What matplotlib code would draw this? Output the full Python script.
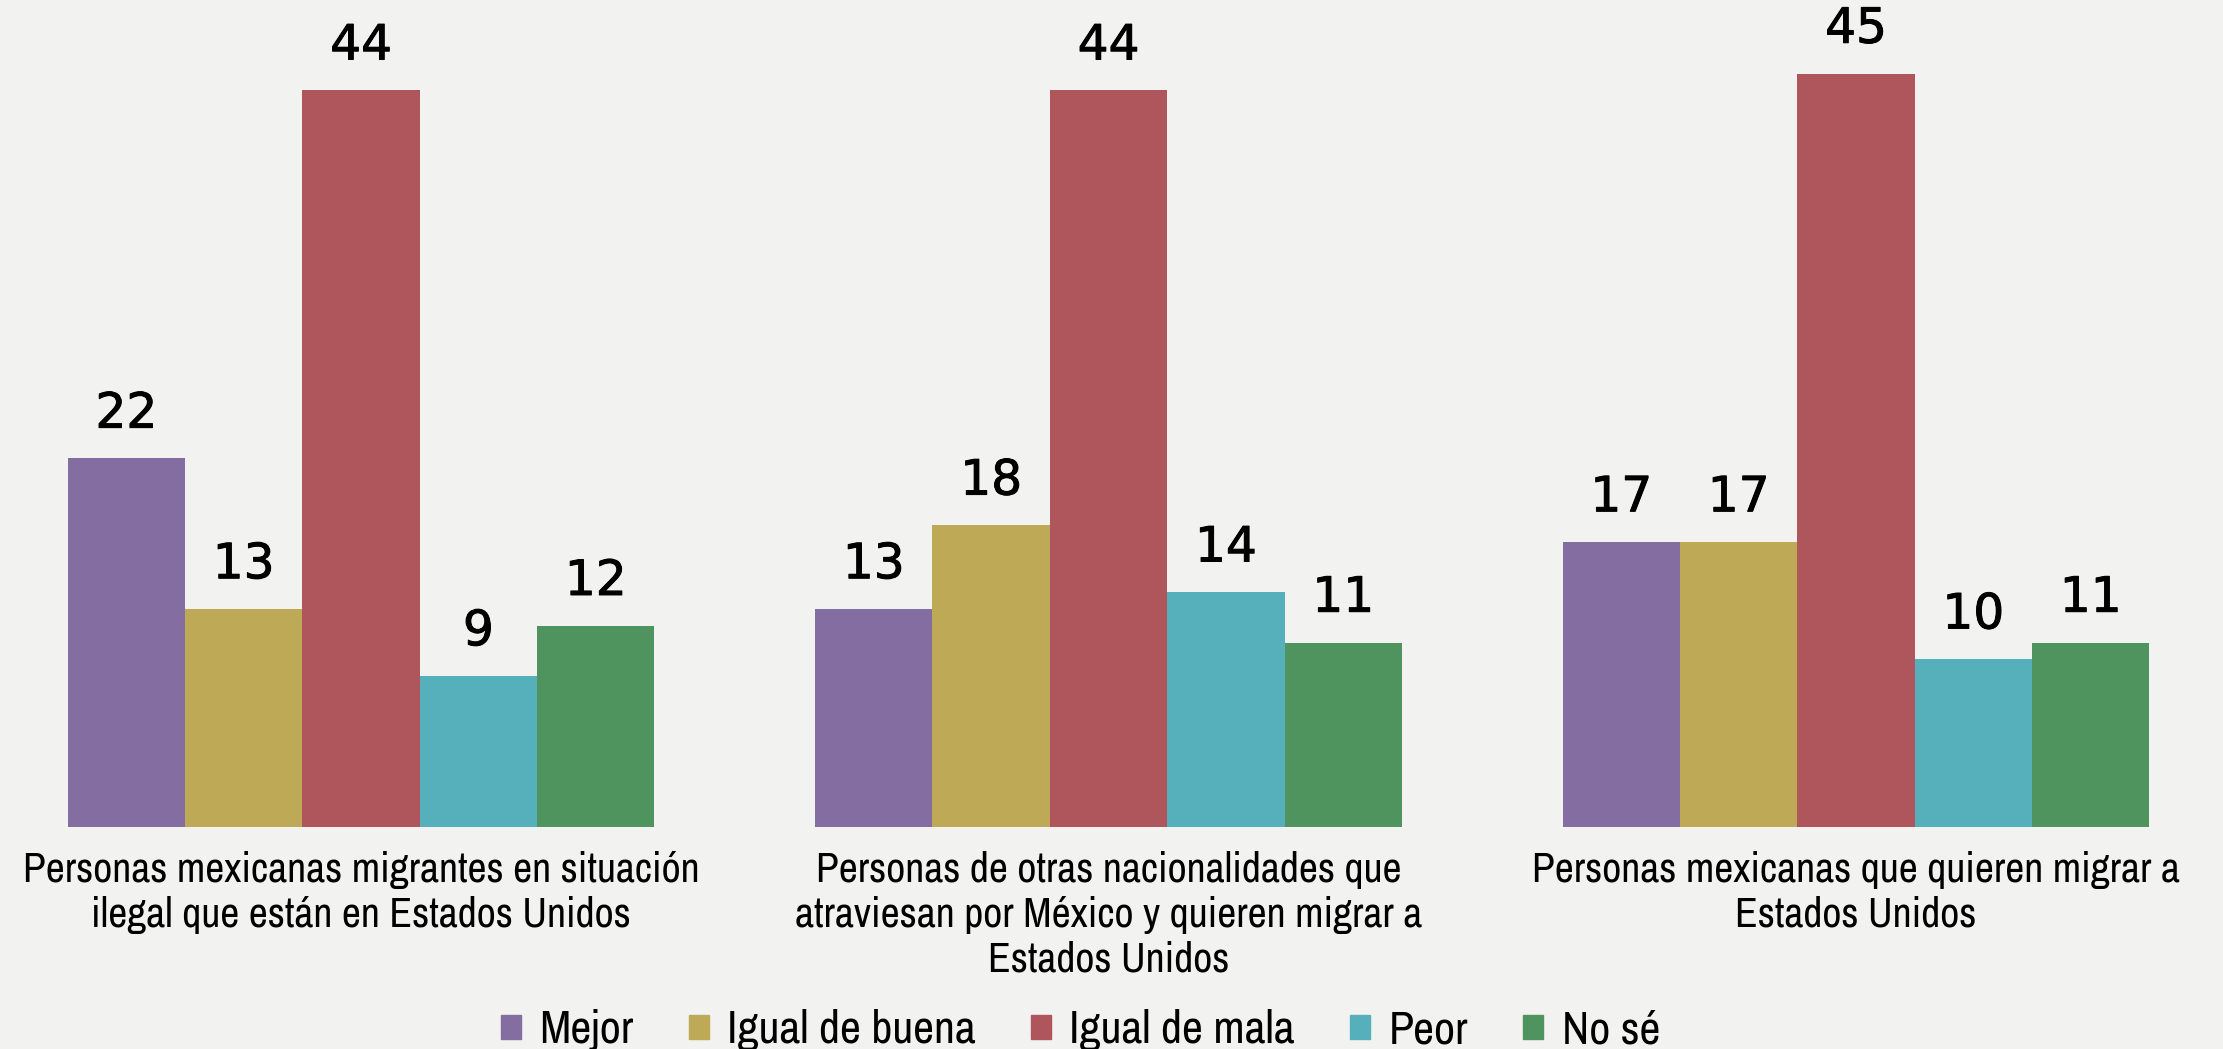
import matplotlib
matplotlib.use("Agg")
import matplotlib.pyplot as plt
from matplotlib.patches import Patch
import matplotlib.patheffects as pe
import numpy as np

categories = [
    "Personas mexicanas migrantes en situación\nilegal que están en Estados Unidos",
    "Personas de otras nacionalidades que\natraviesan por México y quieren migrar a\nEstados Unidos",
    "Personas mexicanas que quieren migrar a\nEstados Unidos",
]
series_names = ["Mejor", "Igual de buena", "Igual de mala", "Peor", "No sé"]
mejor = [22, 13, 17]
igual_buena = [13, 18, 17]
igual_mala = [44, 44, 45]
peor = [9, 14, 10]
no_se = [12, 11, 11]
series_values = [mejor, igual_buena, igual_mala, peor, no_se]
colors = ["#846DA0", "#BEAA56", "#AE565C", "#56B0BC", "#4F935F"]
bg = "#F2F2F0"

label_font = ["Archivo Narrow", "Roboto Condensed", "DejaVu Sans"]
num_font = ["DejaVu Sans"]

fig = plt.figure(figsize=(22.23, 10.49), dpi=100, facecolor=bg)
ax = fig.add_axes([0, 0.212, 1, 0.788])
ax.set_facecolor(bg)

x = np.arange(len(categories))
bw = 0.157
n = len(series_names)
for i, (name, vals, c) in enumerate(zip(series_names, series_values, colors)):
    pos = x + (i - (n - 1) / 2) * bw
    bars = ax.bar(pos, vals, width=bw, color=c, label=name)
    labels = ax.bar_label(bars, padding=15, fontsize=35, family=num_font,
                          color="black")
    for t in labels:
        t.set_path_effects([pe.withStroke(linewidth=0.7, foreground="black")])

ax.set_xlim(-0.483, 2.491)
ax.set_ylim(0, 49.4)
ax.axis("off")

for xi, cat in zip(x, categories):
    ax.text(xi, -1.45, cat, ha="center", va="top", fontsize=30,
            family=label_font, linespacing=1.22, color="black")

handles = [Patch(color=c, label=s) for s, c in zip(series_names, colors)]
fig.legend(handles=handles, loc="center", bbox_to_anchor=(0.486, 0.018), ncol=5,
           frameon=False, prop={"family": label_font, "size": 33},
           handlelength=0.44, handleheight=0.44, handletextpad=0.4, columnspacing=1.2)

fig.savefig("out.png", dpi=100, facecolor=bg)
